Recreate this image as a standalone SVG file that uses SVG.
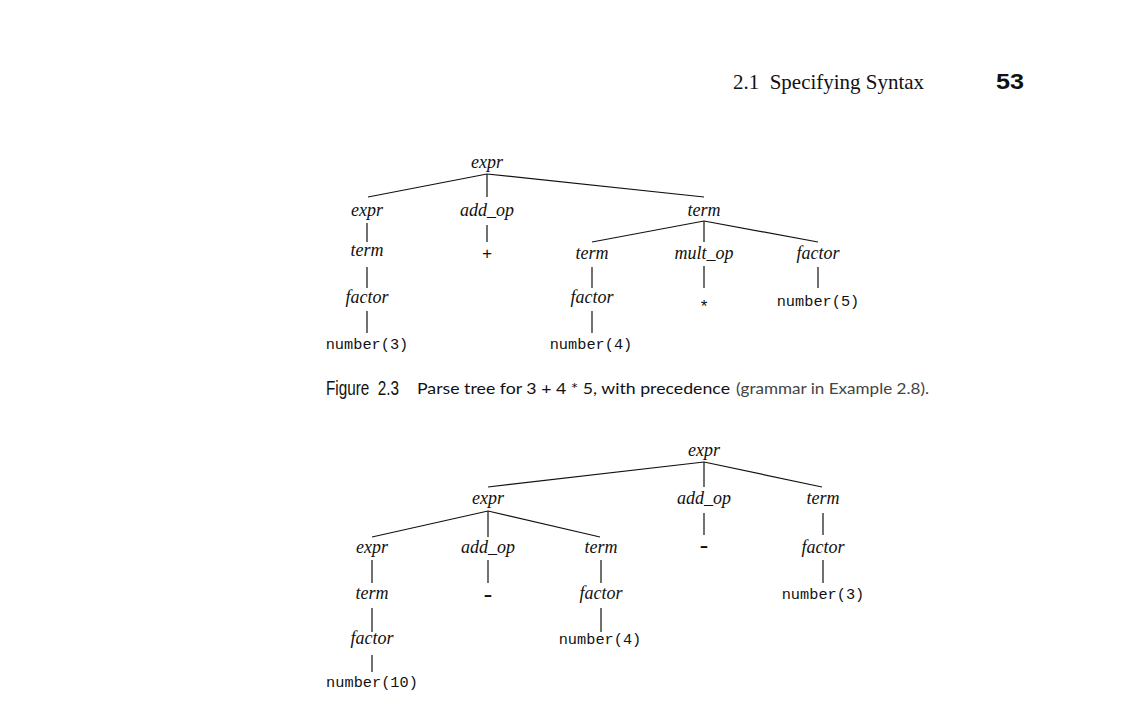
<svg xmlns="http://www.w3.org/2000/svg" width="1128" height="704" viewBox="0 0 1128 704">
<style>
.n{font-family:"Liberation Serif","Times New Roman",serif;font-style:italic;font-size:18px;fill:#111;text-anchor:middle}
.m{font-family:"Liberation Mono","Courier New",monospace;font-size:15.3px;fill:#111;text-anchor:middle}
.op{font-family:"Liberation Mono","Courier New",monospace;font-size:17px;fill:#111;text-anchor:middle}
.dash{font-family:"Liberation Mono","Courier New",monospace;font-size:24px;fill:#111;text-anchor:middle}
.e line{stroke:#111;stroke-width:1.2}
</style>
<rect width="1128" height="704" fill="#fff"/>
<g id="header">
<text x="733" y="89" font-family="Liberation Serif, serif" font-size="21" fill="#111" textLength="191" lengthAdjust="spacingAndGlyphs" xml:space="preserve">2.1  Specifying Syntax</text>
<text x="996" y="89" font-family="Liberation Sans, sans-serif" font-size="22" font-weight="bold" fill="#111" textLength="28" lengthAdjust="spacingAndGlyphs">53</text>
</g>
<g id="edges1" class="e">
<line x1="487" y1="174" x2="368" y2="197"/>
<line x1="487" y1="174" x2="487" y2="197"/>
<line x1="487" y1="174" x2="704" y2="197"/>
<line x1="367" y1="223" x2="367" y2="242"/>
<line x1="367" y1="267" x2="367" y2="288"/>
<line x1="367" y1="311" x2="367" y2="333"/>
<line x1="487" y1="225" x2="487" y2="242"/>
<line x1="704" y1="221" x2="592" y2="242"/>
<line x1="704" y1="221" x2="704" y2="242"/>
<line x1="704" y1="221" x2="818" y2="242"/>
<line x1="592" y1="267" x2="592" y2="288"/>
<line x1="592" y1="311" x2="592" y2="333"/>
<line x1="704" y1="266" x2="704" y2="288"/>
<line x1="818" y1="267" x2="818" y2="288"/>
</g>
<g id="tree1">
<g id="t1-expr"><text class="n" x="487" y="168">expr</text></g>
<g id="t1-expr2"><text class="n" x="367" y="216">expr</text></g>
<g id="t1-addop"><text class="n" x="487" y="216">add_op</text></g>
<g id="t1-term"><text class="n" x="704" y="216">term</text></g>
<g id="t1-term2"><text class="n" x="367" y="256">term</text></g>
<g id="t1-plus"><text class="op" x="487" y="259">+</text></g>
<g id="t1-term3"><text class="n" x="592" y="259">term</text></g>
<g id="t1-multop"><text class="n" x="704" y="259">mult_op</text></g>
<g id="t1-factor3"><text class="n" x="818" y="259">factor</text></g>
<g id="t1-factor1"><text class="n" x="367" y="303">factor</text></g>
<g id="t1-factor2"><text class="n" x="592" y="303">factor</text></g>
<g id="t1-star"><text class="op" x="704" y="312" font-size="22">*</text></g>
<g id="t1-num5"><text class="m" x="818" y="306">number(5)</text></g>
<g id="t1-num3"><text class="m" x="367" y="349">number(3)</text></g>
<g id="t1-num4"><text class="m" x="591" y="349">number(4)</text></g>
</g>
<g id="caption">
<text x="326" y="395" font-family="Liberation Sans, sans-serif" font-size="21" fill="#111" textLength="73" lengthAdjust="spacingAndGlyphs" xml:space="preserve">Figure  2.3</text>
<text x="417" y="394" font-family="Lato, Liberation Sans, sans-serif" font-size="16" fill="#111" textLength="313" lengthAdjust="spacingAndGlyphs">Parse tree for 3 + 4 * 5, with precedence</text>
<text x="736" y="394" font-family="Lato, Liberation Sans, sans-serif" font-size="16" fill="#444" textLength="193" lengthAdjust="spacingAndGlyphs">(grammar in Example 2.8).</text>
</g>
<g id="edges2" class="e">
<line x1="704" y1="462" x2="488" y2="487"/>
<line x1="704" y1="462" x2="704" y2="487"/>
<line x1="704" y1="462" x2="822" y2="487"/>
<line x1="488" y1="511" x2="372" y2="537"/>
<line x1="488" y1="511" x2="488" y2="537"/>
<line x1="488" y1="511" x2="600" y2="537"/>
<line x1="704" y1="513" x2="704" y2="535"/>
<line x1="823" y1="513" x2="823" y2="535"/>
<line x1="823" y1="560" x2="823" y2="583"/>
<line x1="372" y1="560" x2="372" y2="583"/>
<line x1="372" y1="608" x2="372" y2="632"/>
<line x1="372" y1="655" x2="372" y2="672"/>
<line x1="488" y1="560" x2="488" y2="583"/>
<line x1="601" y1="560" x2="601" y2="583"/>
<line x1="601" y1="608" x2="601" y2="632"/>
</g>
<g id="tree2">
<g id="t2-expr"><text class="n" x="704" y="456">expr</text></g>
<g id="t2-expr2"><text class="n" x="488" y="504">expr</text></g>
<g id="t2-addop"><text class="n" x="704" y="504">add_op</text></g>
<g id="t2-term"><text class="n" x="823" y="504">term</text></g>
<g id="t2-expr3"><text class="n" x="372" y="553">expr</text></g>
<g id="t2-addop2"><text class="n" x="488" y="553">add_op</text></g>
<g id="t2-term2"><text class="n" x="601" y="553">term</text></g>
<g id="t2-minus"><text class="dash" x="704" y="553">-</text></g>
<g id="t2-factor"><text class="n" x="823" y="553">factor</text></g>
<g id="t2-term3"><text class="n" x="372" y="599">term</text></g>
<g id="t2-minus2"><text class="dash" x="488" y="602">-</text></g>
<g id="t2-factor2"><text class="n" x="601" y="599">factor</text></g>
<g id="t2-num3"><text class="m" x="823" y="599">number(3)</text></g>
<g id="t2-factor3"><text class="n" x="372" y="644">factor</text></g>
<g id="t2-num4"><text class="m" x="600" y="644">number(4)</text></g>
<g id="t2-num10"><text class="m" x="372" y="687">number(10)</text></g>
</g>
</svg>
